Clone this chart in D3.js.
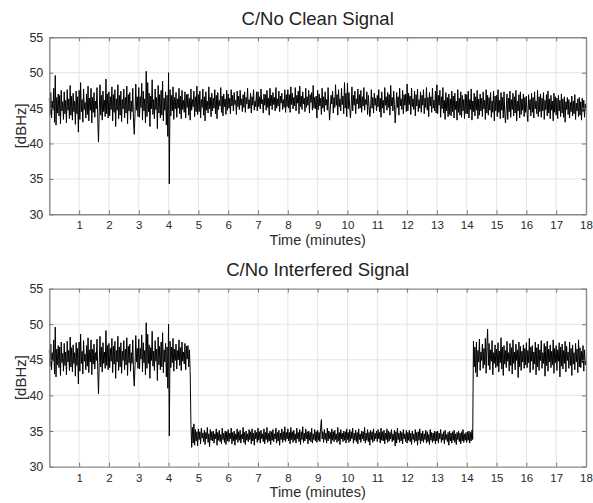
<!DOCTYPE html>
<html><head><meta charset="utf-8">
<script src="https://cdn.jsdelivr.net/npm/d3@7"></script>
<style>
html,body{margin:0;padding:0;background:#fff;}
svg{display:block;font-family:"Liberation Sans",Arial,sans-serif;}
</style></head>
<body><svg id="chart" width="593" height="503"></svg>
<script>
// ---- data (C/No in dBHz, one sample every 0.025 minutes) ----
const sampleStep = 0.025;
const xTicks = [1,2,3,4,5,6,7,8,9,10,11,12,13,14,15,16,17,18];
const yTicks = [30,35,40,45,50,55];
const titles = ["C/No Clean Signal", "C/No Interfered Signal"];
const xLabel = "Time (minutes)";
const yLabel = "[dBHz]";

const cleanSignal = [
 46.4,44.1,47.2,43.6,46.0,44.8,47.8,43.0,49.6,42.6,46.5,44.3,47.0,43.9,46.8,42.8,47.5,44.6,45.9,43.4,
 47.3,44.2,46.1,42.9,47.6,44.7,46.3,43.5,48.2,44.0,46.7,43.3,47.1,44.5,46.0,42.7,47.4,44.2,46.6,41.6,
 47.5,43.4,48.6,44.5,46.2,43.0,47.7,44.8,45.8,43.6,47.0,44.1,48.1,43.2,46.4,44.7,47.8,42.9,46.5,44.4,
 47.2,43.7,46.0,44.9,47.9,43.5,40.2,44.6,48.3,44.0,46.8,43.3,47.4,44.5,46.1,43.8,49.1,44.2,47.0,43.6,
 47.3,43.9,46.6,44.8,48.0,43.2,46.9,44.4,47.6,42.4,46.3,44.7,48.3,43.5,46.8,44.0,47.4,43.1,46.2,44.9,
 47.7,43.6,46.5,44.3,48.1,42.8,46.9,44.6,47.2,43.4,46.0,44.5,47.8,43.0,41.3,44.2,48.4,44.7,46.6,43.8,
 47.9,43.7,46.6,45.1,48.5,43.3,47.4,44.6,46.3,42.9,50.2,43.8,48.6,44.5,47.1,42.4,46.7,44.9,49.0,44.1,
 46.2,43.5,47.7,44.8,46.5,42.1,48.2,44.3,46.9,43.6,47.5,44.0,48.8,43.2,46.4,44.7,47.3,42.6,46.8,41.0,
 50.0,34.3,47.6,43.9,46.8,44.6,48.0,43.4,46.5,44.9,47.2,43.7,46.3,45.0,47.8,44.2,46.7,43.5,47.5,44.8,
 46.1,44.4,47.3,43.6,46.9,45.1,47.0,44.0,46.4,43.3,47.7,44.7,46.2,45.2,47.4,43.8,46.6,44.5,48.1,44.1,
 46.9,44.5,47.4,43.6,46.2,45.1,47.7,44.0,46.6,43.2,47.3,44.7,46.0,44.3,48.0,44.9,46.5,43.8,47.1,44.6,
 46.4,45.0,47.6,44.2,46.8,43.5,47.2,44.8,46.1,45.3,47.9,44.4,46.7,43.9,47.0,45.2,46.3,44.1,47.5,44.7,
 47.0,45.0,46.4,44.2,47.6,45.3,46.8,44.6,47.2,45.5,46.1,44.1,47.4,45.2,46.7,44.8,47.5,45.4,46.3,44.5,
 46.9,45.1,47.3,44.4,46.5,45.6,47.8,44.9,46.2,45.0,47.1,44.3,46.6,45.4,47.6,44.7,46.0,45.2,47.3,44.6,
 47.3,45.2,46.6,44.9,47.7,45.6,46.2,44.3,47.0,45.4,46.9,44.7,47.5,45.1,46.4,44.0,47.8,45.3,46.8,44.8,
 47.2,45.5,46.5,44.6,47.9,45.0,46.3,45.3,47.4,44.5,46.7,45.7,47.1,44.8,46.2,45.1,47.6,44.4,46.9,45.2,
 47.6,45.0,46.9,44.4,48.0,45.5,47.1,44.9,46.5,45.3,47.9,44.6,46.8,45.7,47.4,44.2,48.1,45.2,46.7,44.8,
 47.3,45.6,46.4,44.5,47.8,45.1,46.6,45.4,47.5,44.3,46.9,45.8,47.2,44.7,48.2,45.0,46.5,44.9,46.7,43.6,
 47.5,44.8,47.0,45.3,46.4,44.1,47.8,45.0,46.6,44.5,47.3,45.4,46.2,44.7,47.9,45.2,43.3,44.9,46.8,45.6,
 47.4,44.3,46.5,45.1,48.3,45.4,46.9,44.0,47.6,45.2,46.3,44.6,47.8,45.5,46.7,44.2,48.6,45.0,47.1,43.8,
 48.5,44.9,47.2,45.1,43.6,45.3,48.0,44.6,46.8,45.4,47.4,44.2,46.3,45.6,47.7,44.9,46.9,45.0,47.5,44.4,
 46.6,45.3,47.9,44.7,46.2,45.5,47.3,44.1,46.8,45.2,43.8,44.8,47.6,45.0,46.5,44.3,47.1,45.4,46.4,44.6,
 46.8,45.2,47.6,44.5,46.4,43.7,47.3,45.0,46.1,44.3,47.9,45.4,46.6,44.7,47.2,45.1,46.9,44.0,48.2,45.3,
 46.5,44.6,47.4,45.5,42.9,44.7,47.2,45.1,46.6,44.0,47.8,45.3,46.3,44.8,47.5,44.2,46.9,45.4,47.0,44.5,
 48.4,44.6,47.1,45.5,46.7,44.1,47.8,45.2,46.3,44.8,47.4,43.9,46.9,45.3,47.7,44.5,46.2,45.0,47.3,44.4,
 46.8,45.4,47.6,44.2,46.4,45.1,47.9,44.7,46.5,43.8,47.2,45.3,46.6,44.4,47.8,45.0,46.1,44.6,47.4,44.3,
 48.3,44.2,46.8,45.4,47.5,43.7,46.6,44.9,47.9,44.3,46.1,43.4,47.2,44.6,46.5,43.8,47.0,44.1,46.3,43.9,
 47.4,44.5,46.7,43.6,47.1,44.8,46.0,43.3,47.6,44.4,46.4,44.0,47.3,43.7,46.8,44.6,46.2,43.5,47.0,44.2,
 46.9,44.2,47.4,43.6,46.2,44.8,47.7,43.3,46.0,44.5,47.1,43.9,46.6,44.7,47.5,43.5,46.3,44.0,47.0,44.6,
 46.4,43.8,47.3,44.9,46.1,43.4,47.6,44.3,46.8,44.0,46.5,44.7,47.2,43.7,46.0,44.4,47.4,43.2,46.7,44.6,
 46.8,43.8,47.6,44.4,46.1,43.5,47.2,44.7,46.5,43.6,47.3,44.2,42.9,44.9,47.0,43.4,46.4,44.5,47.4,43.7,
 46.2,44.8,47.1,43.9,46.6,44.3,47.5,43.2,46.0,44.6,46.9,43.6,47.3,44.1,46.3,44.7,47.0,43.8,46.5,44.4,
 46.7,44.1,43.1,46.9,44.8,46.2,43.9,47.1,44.4,46.5,43.6,47.3,44.9,46.0,44.2,47.5,43.8,46.6,44.5,47.0,
 43.7,46.4,44.6,47.2,43.4,46.1,44.8,46.9,43.9,47.4,44.3,46.3,43.5,46.8,44.7,46.0,43.2,47.1,44.4,46.6,
 44.0,46.4,43.5,46.8,44.6,46.1,43.8,47.0,44.3,46.3,43.7,46.6,43.0,45.9,44.8,46.5,44.1,46.2,43.6,45.8,
 44.5,46.7,43.9,46.0,44.2,46.9,43.4,45.7,44.6,46.3,43.8,46.5,44.0,45.9,43.3,46.4,44.5,46.1,43.7,45.6,
 44.7
];
// interfered signal: identical to the clean one until 4.725 min, jammed 4.75–14.2 min, recovered afterwards
const interferenceStartIndex = 190;
const interferedMid = [
 35.9,32.7,35.5,33.3,36.0,33.0,35.2,33.6,34.9,32.9,
 35.3,33.8,34.9,33.2,35.4,34.0,34.7,33.5,35.1,33.1,34.8,33.9,35.5,33.4,34.6,32.8,35.2,33.7,34.9,33.6,
 35.0,33.3,34.6,33.9,35.3,33.0,34.8,33.7,35.1,33.5,34.5,33.2,35.4,33.8,34.7,33.4,35.0,33.1,34.9,33.6,
 35.2,33.5,34.7,33.9,35.4,33.2,34.8,33.6,35.0,33.0,34.6,33.8,35.3,33.4,34.9,33.7,35.1,33.3,34.5,33.9,
 35.5,33.4,34.8,33.1,35.0,33.7,34.6,33.5,35.2,33.8,34.9,33.2,35.3,33.6,34.7,33.0,35.1,33.9,34.8,33.4,
 35.4,33.7,34.9,33.3,35.1,33.9,34.6,33.5,35.3,33.2,34.8,33.8,35.5,33.4,34.7,33.6,35.0,33.1,34.9,33.7,
 35.2,33.5,34.6,33.9,35.4,33.3,34.8,33.6,35.1,33.0,34.7,33.8,35.3,33.4,34.9,33.7,35.6,33.5,34.8,33.9,
 35.3,33.6,34.8,33.2,35.5,33.8,34.9,33.4,35.1,33.7,34.6,33.3,35.4,33.9,34.8,33.5,35.2,33.1,34.9,33.8,
 35.6,33.4,34.7,33.6,35.3,33.9,34.9,33.2,35.0,33.7,34.8,33.5,35.4,33.3,34.6,33.8,35.2,33.6,34.9,33.4,
 35.1,33.7,34.8,33.5,35.5,36.6,33.9,34.9,33.4,35.2,33.8,34.7,33.3,35.4,33.6,35.0,33.9,34.8,33.2,35.3,
 33.7,34.9,33.5,35.1,33.8,34.6,33.4,35.5,33.6,34.8,33.1,35.2,33.9,34.7,33.5,35.0,33.7,34.9,33.3,35.3,
 33.8,34.8,33.4,35.2,33.6,34.9,33.9,35.4,33.3,34.7,33.7,35.1,33.5,34.8,33.2,35.3,33.8,34.6,33.4,35.0,
 33.9,34.9,33.6,35.5,33.3,34.7,33.7,35.2,33.5,34.8,33.0,35.1,33.8,34.9,33.4,35.3,33.6,34.7,33.9,35.0,
 33.5,35.2,33.9,34.8,33.3,35.4,33.7,34.9,33.6,35.1,33.2,34.7,33.8,35.3,33.4,35.0,33.6,34.8,33.9,35.2,
 33.5,34.6,33.7,35.1,32.9,34.9,33.3,35.4,33.8,34.7,33.4,35.0,33.6,34.8,33.2,35.2,33.9,34.6,33.5,35.1,
 33.3,34.8,33.7,35.1,33.5,34.7,33.1,35.0,33.8,34.6,33.4,35.2,33.6,34.8,33.0,34.9,33.7,35.3,33.2,34.7,
 33.6,35.0,33.4,34.6,33.8,35.1,33.3,34.9,33.5,34.5,33.1,35.2,33.7,34.8,33.4,34.7,33.6,35.0,33.2,34.9,
 33.6,35.0,33.3,34.7,33.9,35.2,33.4,34.6,33.7,34.9,33.2,35.1,33.8,34.5,33.5,34.8,33.0,35.0,33.6,34.7,
 33.3,34.9,33.7,35.1,33.4,34.6,33.1,34.8,33.8,35.0,33.5,34.7,33.2,34.9,33.6,35.2,33.4,34.6,33.7,34.8,
 33.4,34.9,33.7,35.0,33.3,34.8,33.6,35.1,33.8
];
const interferedEnd = [
 47.6,44.0,46.8,43.2,47.5,42.6,46.3,44.7,47.9,43.5,46.1,44.9,47.2,43.8,46.6,44.3,48.0,43.1,46.9,49.3,
 44.2,47.3,43.6,46.4,44.8,47.7,42.9,46.0,44.5,47.1,43.9,
 46.5,44.1,47.4,43.3,46.2,44.6,48.1,43.7,46.8,42.8,47.0,44.4,46.3,43.9,47.6,44.8,46.0,43.4,47.3,44.2,
 46.7,43.0,47.8,44.5,46.1,43.6,47.2,44.9,46.4,42.5,47.5,44.0,46.9,43.5,46.2,44.7,47.1,43.8,46.6,44.3,
 47.4,43.9,46.3,44.6,48.0,43.2,46.8,44.8,47.0,43.6,46.1,44.4,47.5,42.9,46.7,44.0,47.2,43.5,46.4,44.9,
 47.7,43.8,46.0,44.5,47.3,42.7,46.9,44.2,47.6,43.4,46.5,44.7,47.1,43.9,46.2,44.3,47.8,43.1,46.6,44.6,
 47.0,43.5,46.4,44.8,47.4,42.6,46.8,44.1,47.2,43.7,46.3,44.5,47.6,43.3,46.9,44.9,46.1,43.8,47.5,44.2,
 46.6,42.8,47.1,44.4,46.0,43.6,47.3,44.7,46.5,43.2,47.8,44.0,46.7,43.9,46.2,44.6,47.0,43.4,46.4,44.3,
 44.9
];
const interferedSignal = cleanSignal.slice(0, interferenceStartIndex).concat(interferedMid, interferedEnd);

// ---- drawing ----
const svg = d3.select("#chart");
const panels = [
  {title: titles[0], values: cleanSignal, top: 37.3, bottom: 214.3, titleY: 25, xLabY: 245},
  {title: titles[1], values: interferedSignal, top: 288.6, bottom: 466.6, titleY: 276, xLabY: 497}
];
const left = 49.3, right = 586;
const axisCol = "#8a8a8a", textCol = "#2a2a2a", gridCol = "#e4e4e4";

panels.forEach(p => {
  const x = d3.scaleLinear().domain([0, 18]).range([left, right]);
  const y = d3.scaleLinear().domain([30, 55]).range([p.bottom, p.top]);
  const g = svg.append("g");

  // grid
  g.append("g").selectAll("line").data(xTicks.filter(t => t < 18)).join("line")
    .attr("x1", d => x(d)).attr("x2", d => x(d)).attr("y1", p.top).attr("y2", p.bottom)
    .attr("stroke", gridCol).attr("stroke-width", 1);
  g.append("g").selectAll("line").data(yTicks.filter(t => t > 30 && t < 55)).join("line")
    .attr("x1", left).attr("x2", right).attr("y1", d => y(d)).attr("y2", d => y(d))
    .attr("stroke", gridCol).attr("stroke-width", 1);

  // signal
  const line = d3.line().x((d, i) => x(i * sampleStep)).y(d => y(d));
  g.append("path").datum(p.values).attr("d", line)
    .attr("fill", "none").attr("stroke", "#000").attr("stroke-width", 1);

  // axes: bottom/left with labels, top/right ticks only (inward)
  const ax = (gen, tr, fs) => g.append("g").attr("transform", tr).call(gen)
    .call(s => { s.select(".domain").attr("stroke", axisCol).attr("stroke-width", 1.4);
                 s.selectAll(".tick line").attr("stroke", "#777");
                 s.selectAll("text").attr("fill", textCol).attr("font-size", fs); });
  ax(d3.axisBottom(x).tickValues(xTicks).tickSize(-4).tickPadding(7).tickSizeOuter(0), `translate(0,${p.bottom})`, 11.5);
  ax(d3.axisTop(x).tickValues(xTicks).tickSize(-4).tickFormat("").tickSizeOuter(0), `translate(0,${p.top})`, 11.5);
  ax(d3.axisLeft(y).tickValues(yTicks).tickSize(-4).tickPadding(6).tickSizeOuter(0), `translate(${left},0)`, 12.5);
  ax(d3.axisRight(y).tickValues(yTicks).tickSize(-4).tickFormat("").tickSizeOuter(0), `translate(${right},0)`, 12.5);

  g.append("text").attr("x", (left + right) / 2).attr("y", p.titleY).attr("text-anchor", "middle")
    .attr("font-size", 18.5).attr("fill", "#222").text(p.title);
  g.append("text").attr("x", (left + right) / 2).attr("y", p.xLabY).attr("text-anchor", "middle")
    .attr("font-size", 14.5).attr("fill", textCol).text(xLabel);
  g.append("text").attr("transform", `translate(26,${(p.top + p.bottom) / 2}) rotate(-90)`)
    .attr("text-anchor", "middle").attr("font-size", 15).attr("fill", textCol).text(yLabel);
});
</script></body></html>
